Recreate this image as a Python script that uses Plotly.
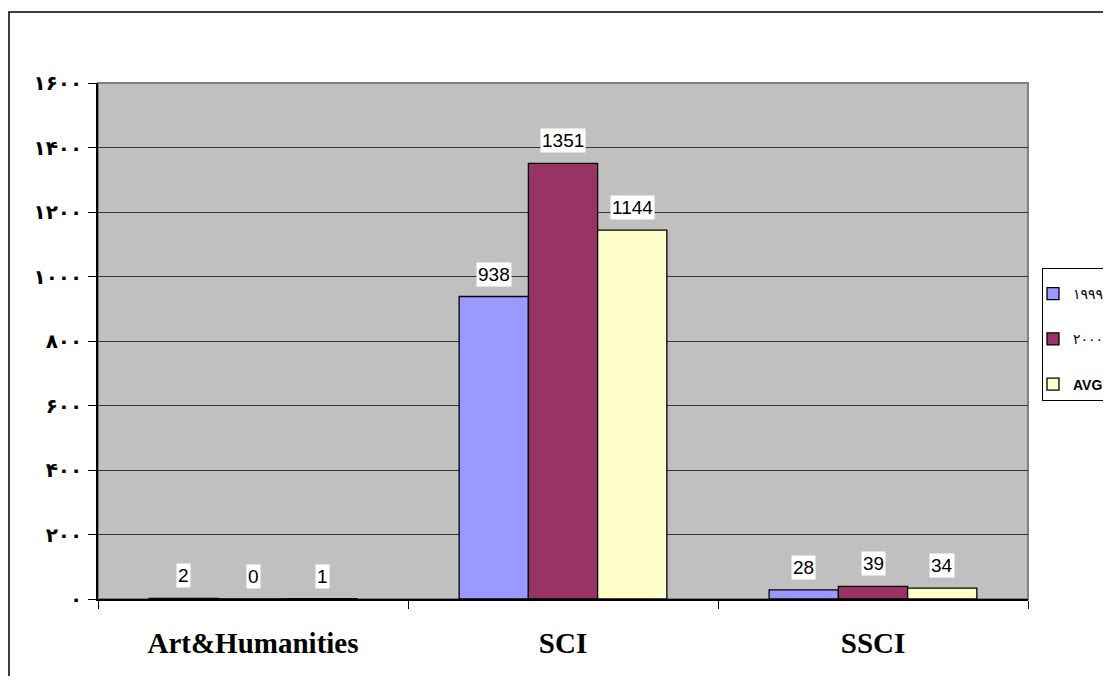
import plotly.graph_objects as go

categories = ["Art&Humanities", "SCI", "SSCI"]
series_names = ["۱۹۹۹", "۲۰۰۰", "<b>AVG</b>"]
v1999 = [2, 938, 28]
v2000 = [0, 1351, 39]
vavg = [1, 1144, 34]
colors = ["#9999FF", "#993366", "#FFFFCC"]
ytick_vals = [0, 200, 400, 600, 800, 1000, 1200, 1400, 1600]
ytick_text = ["۰", "۲۰۰", "۴۰۰", "۶۰۰", "۸۰۰", "۱۰۰۰", "۱۲۰۰", "۱۴۰۰", "۱۶۰۰"]

W, H = 1103, 668
series = [v1999, v2000, vavg]
bargap = 0.33
fig = go.Figure()
for i, (name, vals, col) in enumerate(zip(series_names, series, colors)):
    fig.add_trace(go.Bar(
        x=categories, y=vals, name=name, legendgroup="g%d" % i,
        marker=dict(color=col, line=dict(color="black", width=1.3)),
    ))

# data labels with white background
bw = (1 - bargap) / len(series)
for i, vals in enumerate(series):
    off = (i - (len(series) - 1) / 2) * bw
    for ci, v in enumerate(vals):
        fig.add_annotation(
            x=ci + off, y=v, xref="x", yref="y", text=str(v),
            showarrow=False, yanchor="bottom", yshift=10,
            bgcolor="white", borderpad=1,
            font=dict(family="Liberation Sans, Arial", size=19, color="black"),
        )

fig.update_layout(
    width=W, height=H,
    margin=dict(l=90, r=83, t=75, b=77),
    paper_bgcolor="white", plot_bgcolor="#C0C0C0",
    barmode="group", bargap=bargap, bargroupgap=0,
    showlegend=True,
    legend=dict(
        xref="container", yref="container",
        x=1034 / W, y=1 - 260 / H, xanchor="left", yanchor="top",
        bordercolor="black", borderwidth=1, bgcolor="white",
        font=dict(family="Liberation Sans, DejaVu Sans", size=14, color="black"),
        title=dict(text=" ", font=dict(size=7)),
        tracegroupgap=24, indentation=-10,
    ),
    xaxis=dict(
        type="category", tickson="boundaries", ticks="outside", ticklen=8,
        tickcolor="black", showline=True, linecolor="black", linewidth=1.5,
        showgrid=False,
        tickfont=dict(family="Liberation Serif, Times New Roman", size=29,
                      color="black", weight="bold"),
        ticklabelstandoff=17,
    ),
    yaxis=dict(
        range=[0, 1600], tickvals=ytick_vals, ticktext=ytick_text,
        ticks="outside", ticklen=8, tickcolor="black",
        showline=True, linecolor="black", linewidth=1.5,
        showgrid=True, gridcolor="#333333", gridwidth=1, zeroline=False,
        tickfont=dict(family="DejaVu Sans", size=20, color="black", weight="bold"),
        ticklabelstandoff=2,
    ),
    shapes=[
        dict(type="rect", xref="paper", yref="paper", x0=0, x1=1, y0=0, y1=1,
             line=dict(color="#808080", width=2), layer="below"),
        dict(type="rect", xref="paper", yref="paper", x0=-0.0957, x1=1.2, y0=-0.3, y1=1.1376,
             line=dict(color="black", width=1.5)),
    ],
)
fig.write_html("out.html")
